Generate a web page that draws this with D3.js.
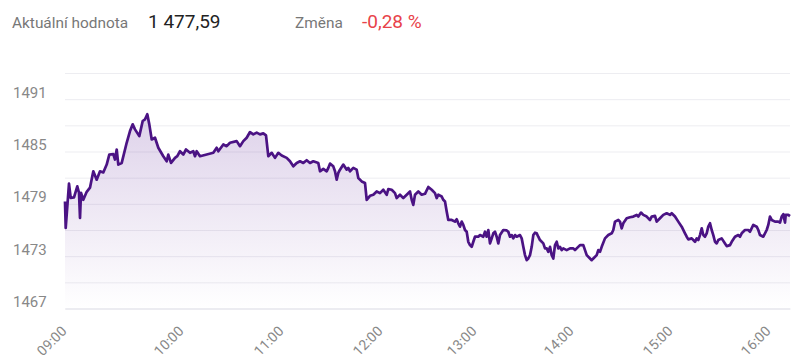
<!DOCTYPE html>
<html lang="cs">
<head>
<meta charset="utf-8">
<script src="https://cdn.jsdelivr.net/npm/d3@7"></script>
<style>
  body { margin: 0; background: #fff; }
  svg { font-family: Roboto, "Open Sans", sans-serif; display: block; }
</style>
</head>
<body>
<script>
// intraday index values (Highstock-like ordinal time axis)
var times = [
  "09:00:00","09:00:22","09:02:03","09:02:55","09:04:37","09:06:18","09:07:11","09:07:42","09:08:12","09:09:23",
  "09:11:08","09:12:49","09:14:31","09:16:15","09:17:57","09:19:38","09:21:23","09:22:43","09:24:46","09:25:38",
  "09:26:31","09:27:20","09:29:05","09:31:38","09:33:20","09:34:43","09:35:54","09:38:06","09:39:51","09:41:02",
  "09:42:12","09:43:14","09:44:28","09:46:09","09:47:51","09:50:25","09:52:09","09:52:58","09:54:22","09:56:25",
  "09:57:35","09:58:58","10:00:47","10:02:24","10:04:48","10:06:47","10:07:48","10:08:49","10:10:48","10:14:49",
  "10:18:47","10:20:49","10:21:47","10:24:47","10:26:49","10:28:48","10:32:49","10:34:48","10:36:47","10:38:49",
  "10:40:48","10:42:47","10:44:49","10:46:48","10:48:47","10:50:24","10:51:47","10:53:49","10:55:48","10:57:47",
  "10:59:49","11:02:51","11:04:51","11:06:51","11:08:55","11:10:55","11:12:55","11:14:58","11:16:58","11:18:58",
  "11:22:00","11:23:02","11:25:02","11:27:05","11:28:04","11:29:05","11:31:05","11:32:07","11:33:09","11:34:07",
  "11:35:09","11:37:09","11:39:13","11:40:11","11:41:13","11:43:13","11:45:16","11:46:15","11:48:18","11:50:18",
  "11:51:20","11:53:20","11:55:20","11:57:23","11:59:23","12:01:28","12:03:38","12:04:40","12:06:50","12:08:56",
  "12:10:01","12:12:08","12:14:14","12:16:24","12:18:31","12:19:36","12:20:37","12:21:42","12:23:49","12:25:59",
  "12:28:05","12:30:11","12:32:22","12:34:28","12:35:33","12:36:34","12:38:45","12:39:46","12:40:51","12:41:56",
  "12:42:57","12:45:08","12:47:14","12:48:19","12:49:20","12:50:26","12:51:31","12:52:32","12:53:37","12:54:42",
  "12:55:43","12:56:49","12:57:54","12:58:55","13:00:00","13:02:02","13:03:06","13:05:08","13:06:11","13:07:14",
  "13:08:14","13:09:17","13:10:20","13:11:19","13:12:22","13:13:25","13:14:25","13:15:28","13:17:30","13:19:37",
  "13:20:36","13:21:39","13:22:42","13:23:41","13:24:45","13:25:48","13:27:50","13:28:53","13:29:53","13:30:56",
  "13:31:59","13:32:58","13:34:01","13:35:04","13:36:04","13:37:07","13:38:10","13:39:09","13:40:12","13:42:15",
  "13:43:18","13:44:21","13:45:21","13:46:24","13:47:27","13:48:26","13:49:29","13:50:32","13:51:32","13:52:35",
  "13:53:38","13:54:37","13:56:43","13:58:46","14:00:47","14:01:49","14:02:51","14:04:51","14:06:51","14:07:53",
  "14:08:55","14:10:55","14:11:56","14:12:55","14:14:58","14:15:56","14:16:58","14:18:00","14:20:00","14:22:00",
  "14:24:04","14:25:02","14:26:04","14:28:04","14:29:05","14:30:07","14:31:05","14:33:09","14:35:09","14:37:09",
  "14:39:13","14:40:11","14:41:49","14:43:13","14:45:16","14:47:16","14:48:18","14:50:18","14:51:20","14:53:20",
  "14:55:20","14:57:23","14:59:23","15:00:26","15:02:27","15:04:28","15:06:33","15:08:34","15:09:37","15:10:36",
  "15:12:40","15:13:39","15:14:42","15:15:44","15:16:43","15:17:45","15:18:48","15:19:47","15:20:49","15:21:51",
  "15:22:50","15:23:53","15:24:55","15:25:54","15:26:56","15:27:59","15:28:58","15:31:02","15:33:04","15:34:06",
  "15:36:07","15:37:10","15:39:11","15:41:12","15:42:15","15:43:17","15:45:18","15:47:20","15:48:22","15:50:23",
  "15:52:28","15:53:27","15:54:29","15:56:31","15:58:35","15:59:34","16:00:43","16:01:56","16:04:17","16:06:39",
  "16:07:51","16:09:04","16:10:13","16:11:26","16:11:56","16:13:47","16:15:00"
];

var values = [
  1479.27, 1476.23, 1481.31, 1479.69, 1479.73, 1481.00, 1480.27, 1477.38, 1480.27, 1479.46,
  1480.38, 1480.85, 1482.73, 1481.77, 1482.73, 1482.60, 1483.50, 1484.65, 1484.70, 1484.08,
  1485.23, 1483.50, 1483.69, 1486.00, 1487.34, 1488.11, 1487.54, 1486.76, 1488.50, 1488.69,
  1489.27, 1488.11, 1486.38, 1486.58, 1485.43, 1484.46, 1483.88, 1484.65, 1483.69, 1484.27,
  1484.46, 1485.03, 1484.65, 1485.23, 1484.85, 1485.03, 1484.46, 1485.03, 1484.46, 1484.65,
  1484.85, 1485.43, 1485.03, 1485.81, 1485.61, 1486.00, 1486.19, 1485.61, 1486.19, 1486.58,
  1487.23, 1486.96, 1487.16, 1486.96, 1487.08, 1486.85, 1484.46, 1484.85, 1484.27, 1484.85,
  1484.54, 1484.27, 1483.88, 1483.30, 1483.69, 1483.88, 1483.69, 1484.00, 1483.69, 1483.88,
  1483.69, 1482.73, 1483.00, 1482.73, 1483.12, 1483.61, 1483.30, 1482.73, 1481.77, 1482.54,
  1482.92, 1483.50, 1482.92, 1483.12, 1482.73, 1483.12, 1482.92, 1481.96, 1481.57, 1481.39,
  1479.46, 1479.92, 1480.04, 1480.42, 1480.23, 1480.61, 1480.04, 1480.69, 1480.61, 1480.23,
  1479.66, 1480.04, 1479.66, 1480.04, 1480.42, 1479.46, 1478.88, 1480.04, 1480.42, 1480.04,
  1480.15, 1480.93, 1480.61, 1480.23, 1479.66, 1480.04, 1479.84, 1479.46, 1479.27, 1478.11,
  1477.15, 1477.15, 1476.96, 1477.23, 1476.77, 1476.38, 1476.96, 1476.58, 1476.00, 1475.80,
  1474.65, 1474.27, 1474.07, 1474.65, 1475.23, 1475.23, 1475.42, 1475.23, 1475.80, 1475.23,
  1476.00, 1474.46, 1475.04, 1475.62, 1475.80, 1475.23, 1474.46, 1475.42, 1476.00, 1475.95,
  1475.80, 1475.23, 1475.42, 1475.04, 1475.42, 1475.23, 1475.42, 1475.04, 1474.07, 1473.12,
  1472.54, 1472.73, 1473.12, 1474.07, 1475.42, 1475.69, 1475.62, 1475.23, 1474.85, 1474.46,
  1473.89, 1473.89, 1473.50, 1474.07, 1473.12, 1472.73, 1474.27, 1474.65, 1473.89, 1474.07,
  1473.69, 1473.89, 1473.69, 1473.89, 1473.89, 1473.69, 1473.89, 1474.27, 1474.27, 1473.69,
  1473.12, 1472.73, 1472.54, 1472.73, 1473.12, 1473.69, 1473.50, 1474.07, 1475.04, 1475.42,
  1475.62, 1476.00, 1476.96, 1477.15, 1476.96, 1476.19, 1476.77, 1477.35, 1477.46, 1477.54,
  1477.73, 1477.54, 1478.00, 1477.73, 1477.54, 1477.15, 1477.54, 1477.62, 1476.96, 1477.35,
  1477.73, 1477.92, 1477.73, 1477.92, 1477.54, 1476.96, 1476.38, 1475.62, 1475.23, 1474.93,
  1475.04, 1474.85, 1474.65, 1475.04, 1474.85, 1475.42, 1476.19, 1475.42, 1475.23, 1475.62,
  1476.38, 1476.77, 1476.00, 1475.42, 1474.65, 1474.46, 1474.85, 1475.04, 1474.46, 1474.15,
  1474.27, 1474.65, 1475.23, 1475.42, 1475.23, 1475.62, 1476.00, 1476.00, 1475.80, 1476.58,
  1476.38, 1476.00, 1475.42, 1475.23, 1476.00, 1476.58, 1477.54, 1477.15, 1476.96, 1476.96,
  1476.85, 1477.54, 1477.81, 1476.85, 1477.73, 1477.73, 1477.59
];

var hourTicks = ["09:00", "10:00", "11:00", "12:00", "13:00", "14:00", "15:00", "16:00"];
var sessionEnd = "16:15";
var valueTicks = [1467, 1473, 1479, 1485, 1491];
var valueDomain = [1467, 1494];
var gridStep = 3;

var headerLabel = "Aktuální hodnota";
var headerValue = "1 477,59";
var changeLabel = "Změna";
var changeValue = "-0,28 %";

var width = 800, height = 362;
var margins = {top: 73, left: 65, right: 10, bottom: 54};

var parseHM = d3.timeParse("%H:%M");
var parseHMS = d3.timeParse("%H:%M:%S");

var data = times.map(function (t, i) {
  return {t: parseHMS(t), v: values[i]};
});

var svg = d3.select("body").append("svg")
    .attr("width", width)
    .attr("height", height);

// header
var header = svg.append("g").attr("class", "header");
header.append("text").attr("x", 12).attr("y", 28)
    .attr("font-size", 15.4).attr("fill", "#777")
    .text(headerLabel);
header.append("text").attr("x", 148).attr("y", 28)
    .attr("font-size", 19).attr("fill", "#222")
    .text(headerValue);
header.append("text").attr("x", 295).attr("y", 28)
    .attr("font-size", 15.4).attr("fill", "#777")
    .text(changeLabel);
header.append("text").attr("x", 362).attr("y", 28)
    .attr("font-size", 19).attr("fill", "#e8434a")
    .text(changeValue);

// ordinal-like time axis: hours are not spread evenly
var xStops = [0, 117, 217, 316, 410, 507, 606, 704, 725];
var xDomain = hourTicks.concat([sessionEnd]).map(parseHM);
var x = d3.scaleTime()
    .domain(xDomain)
    .range(xStops.map(function (d) { return margins.left + d; }));

var y = d3.scaleLinear()
    .domain(valueDomain)
    .range([height - margins.bottom + 0.5, margins.top]);

var plotW = width - margins.left - margins.right;

// grid + y labels
var gridValues = d3.range(valueDomain[0], valueDomain[1] + 1, gridStep);
var yAxis = d3.axisLeft(y)
    .tickValues(gridValues)
    .tickSize(-plotW)
    .tickFormat(function (d) { return valueTicks.indexOf(d) >= 0 ? d : ""; });

var yG = svg.append("g")
    .attr("class", "y axis")
    .attr("transform", "translate(" + margins.left + ",0)")
    .call(yAxis);
yG.select(".domain").remove();
yG.selectAll(".tick line").attr("stroke", "#ededf1");
yG.selectAll(".tick text")
    .attr("x", 13 - margins.left)
    .attr("dy", -2)
    .attr("text-anchor", "start")
    .attr("font-size", 15)
    .attr("font-family", "Roboto, sans-serif")
    .attr("fill", "#888");

// area + line
var grad = svg.append("defs").append("linearGradient")
    .attr("id", "area-fill")
    .attr("x1", 0).attr("y1", 0).attr("x2", 0).attr("y2", 1);
grad.append("stop").attr("offset", 0).attr("stop-color", "#5a1f96").attr("stop-opacity", 0.2);
grad.append("stop").attr("offset", 1).attr("stop-color", "#5a1f96").attr("stop-opacity", 0);

var area = d3.area()
    .x(function (d) { return x(d.t); })
    .y0(y(valueDomain[0]))
    .y1(function (d) { return y(d.v); });

var line = d3.line()
    .x(function (d) { return x(d.t); })
    .y(function (d) { return y(d.v); });

svg.append("path")
    .datum(data)
    .attr("d", area)
    .attr("fill", "url(#area-fill)");

// x axis
var xAxis = d3.axisBottom(x)
    .tickValues(hourTicks.map(parseHM))
    .tickFormat(d3.timeFormat("%H:%M"))
    .tickSize(0)
    .tickSizeOuter(0);

var xG = svg.append("g")
    .attr("class", "x axis")
    .attr("transform", "translate(0," + (height - margins.bottom) + ")")
    .call(xAxis);
xG.select(".domain")
    .attr("stroke", "#e2e2ea")
    .attr("transform", "translate(0,0.5)");
xG.selectAll(".tick text")
    .attr("y", 0)
    .attr("dy", 0)
    .attr("transform", "translate(2,24) rotate(-45)")
    .attr("text-anchor", "end")
    .attr("font-size", 14)
    .attr("font-family", "Roboto, sans-serif")
    .attr("fill", "#888");

svg.append("path")
    .datum(data)
    .attr("d", line)
    .attr("fill", "none")
    .attr("stroke", "#4b1384")
    .attr("stroke-width", 2.7)
    .attr("stroke-linejoin", "round");
</script>
</body>
</html>
